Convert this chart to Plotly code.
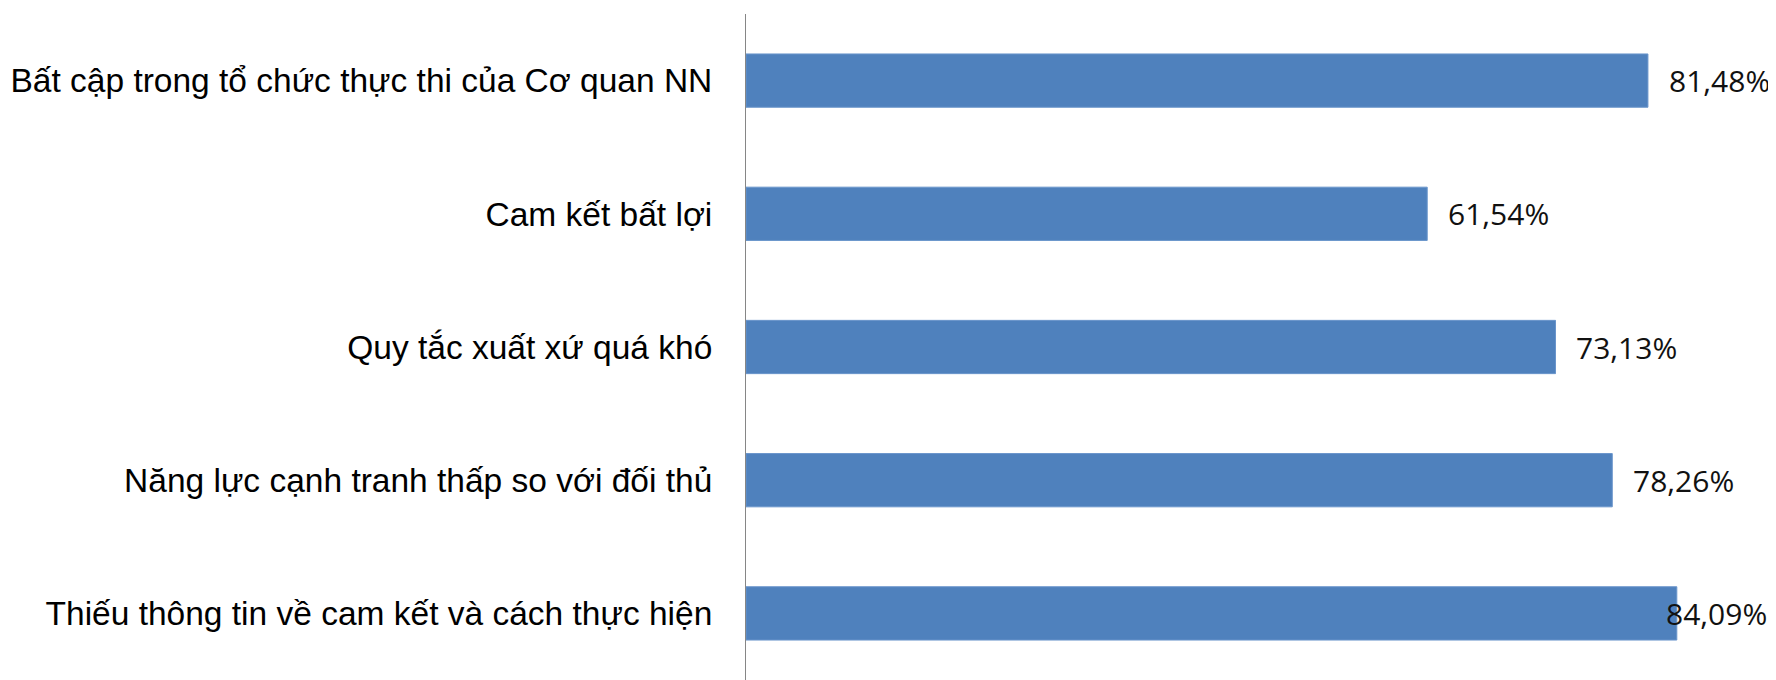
import plotly.graph_objects as go

categories = [
    "Bất cập trong tổ chức thực thi của Cơ quan NN",
    "Cam kết bất lợi",
    "Quy tắc xuất xứ quá khó",
    "Năng lực cạnh tranh thấp so với đối thủ",
    "Thiếu thông tin về cam kết và cách thực hiện",
]
values = [81.48, 61.54, 73.13, 78.26, 84.09]
labels = [f"{v:.2f}".replace(".", ",") + "%" for v in values]

X_MAX = 93.05
LABEL_GAP = 1.7      # in axis units
LABEL_WIDTH = 9.2    # approx label width in axis units
LABEL_LIMIT = 92.4

label_font = dict(family="Open Sans", size=30, color="#111111")

fig = go.Figure()
fig.add_trace(go.Bar(
    x=values, y=categories, orientation="h",
    marker=dict(color="#4F81BD", line=dict(color="#6A95CB", width=1)),
    hoverinfo="skip",
))

for c, v, t in zip(categories, values, labels):
    left = v + LABEL_GAP
    if left + LABEL_WIDTH > LABEL_LIMIT:
        fig.add_annotation(x=LABEL_LIMIT, y=c, text=t, showarrow=False,
                           xanchor="right", yanchor="middle", font=label_font)
    else:
        fig.add_annotation(x=left, y=c, text=t, showarrow=False,
                           xanchor="left", yanchor="middle", font=label_font)

# page body has a default 8px margin; size the figure to fill the rest
fig.update_layout(
    width=1768, height=672,
    margin=dict(l=738, r=0, t=6, b=0, autoexpand=False),
    paper_bgcolor="white", plot_bgcolor="white",
    bargap=0.6,
    showlegend=False,
    xaxis=dict(visible=False, range=[0, X_MAX], fixedrange=True, automargin=False),
    yaxis=dict(
        autorange="reversed", showline=True, linecolor="#868686", linewidth=1,
        showgrid=False, zeroline=False, ticks="", automargin=False,
        ticklabelstandoff=26,
        tickfont=dict(family="Liberation Sans", size=33.5, color="black"),
    ),
)

fig.write_html("out.html")
